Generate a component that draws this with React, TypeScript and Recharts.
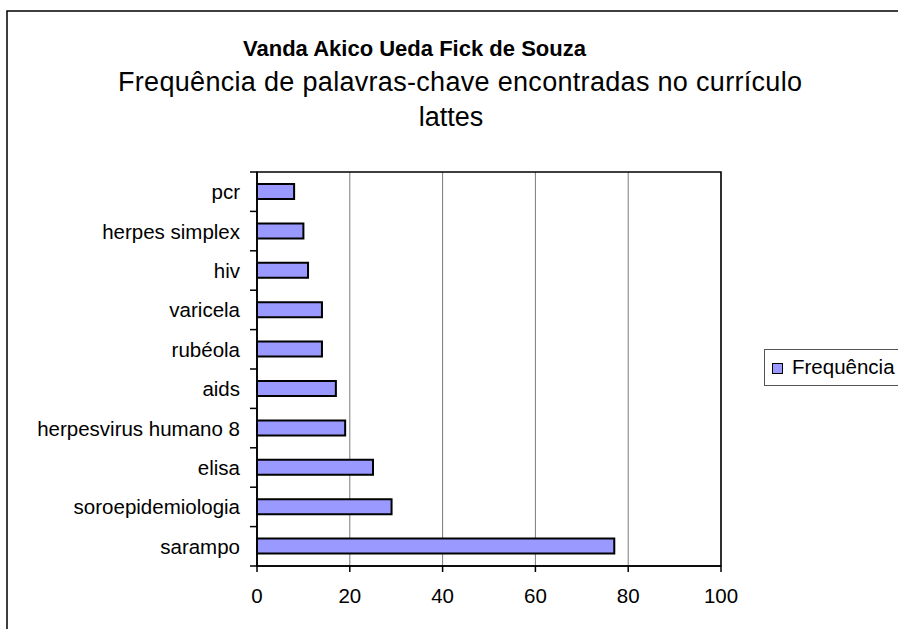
import React from "react";
import {
  BarChart,
  Bar,
  XAxis,
  YAxis,
  CartesianGrid,
  Legend,
  ReferenceArea,
} from "recharts";

const FONT = '"Liberation Sans", Arial, sans-serif';

// keywords, top to bottom as in the chart
const keywords = [
  "pcr",
  "herpes simplex",
  "hiv",
  "varicela",
  "rubéola",
  "aids",
  "herpesvirus humano 8",
  "elisa",
  "soroepidemiologia",
  "sarampo",
];
const frequencia = [8, 10, 11, 14, 14, 17, 19, 25, 29, 77];
const xTicks = [0, 20, 40, 60, 80, 100];

const data = keywords.map((k, i) => ({ keyword: k, freq: frequencia[i] }));

const BAR_FILL = "#9999FF";

// category label plus the short tick marks that sit between categories
function KeywordTick(props: any) {
  const { x, y, payload, index } = props;
  const half = payload.offset ?? 19.7;
  const lx1 = x + 10;
  const lx2 = x + 17;
  return (
    <g>
      <text
        x={x}
        y={y}
        textAnchor="end"
        dominantBaseline="central"
        fontFamily={FONT}
        fontSize={20.5}
        fill="#000"
      >
        {payload.value}
      </text>
      <line x1={lx1} x2={lx2} y1={y - half} y2={y - half} stroke="#000" strokeWidth={1.5} />
      {index === keywords.length - 1 && (
        <line x1={lx1} x2={lx2} y1={y + half} y2={y + half} stroke="#000" strokeWidth={1.5} />
      )}
    </g>
  );
}

function LegendBox() {
  return (
    <div
      style={{
        border: "1px solid #555",
        borderRight: "none",
        height: 35,
        width: 140,
        boxSizing: "content-box",
        position: "relative",
        fontFamily: FONT,
      }}
    >
      <div
        style={{
          position: "absolute",
          left: 7,
          top: 13,
          width: 9,
          height: 9,
          background: BAR_FILL,
          border: "1.5px solid #000",
        }}
      />
      <div
        style={{
          position: "absolute",
          left: 27,
          top: 5,
          fontSize: 20.5,
          lineHeight: "24px",
          color: "#000",
          whiteSpace: "nowrap",
        }}
      >
        Frequência
      </div>
    </div>
  );
}

export default function App() {
  return (
    <div
      style={{
        position: "absolute",
        left: 0,
        top: 0,
        width: 898,
        height: 629,
        overflow: "hidden",
        background: "#fff",
      }}
    >
      <BarChart
        width={898}
        height={629}
        data={data}
        layout="vertical"
        margin={{ top: 172, right: 177, bottom: 23, left: 7 }}
      >
        <CartesianGrid horizontal={false} stroke="#7a7a7a" strokeWidth={1} />
        <XAxis
          type="number"
          domain={[0, 100]}
          ticks={xTicks}
          height={40}
          axisLine={{ stroke: "#000", strokeWidth: 1.5 }}
          tickLine={{ stroke: "#000", strokeWidth: 1.5 }}
          tickSize={6}
          tickMargin={16}
          tick={{ fill: "#000", fontSize: 20.5, fontFamily: FONT }}
        />
        <YAxis
          type="category"
          dataKey="keyword"
          width={250}
          axisLine={{ stroke: "#000", strokeWidth: 1.5 }}
          tickLine={false}
          tickSize={7}
          tickMargin={10}
          interval={0}
          tick={<KeywordTick />}
        />
        <ReferenceArea x1={0} x2={100} fill="none" stroke="#000" strokeWidth={1.5} ifOverflow="visible" />
        <Bar
          dataKey="freq"
          name="Frequência"
          fill={BAR_FILL}
          stroke="#000"
          strokeWidth={2}
          barSize={15}
          isAnimationActive={false}
        />
        <Legend
          layout="horizontal"
          verticalAlign="middle"
          align="center"
          content={() => <LegendBox />}
          wrapperStyle={{ left: 764, top: 349, right: "auto", bottom: "auto", width: "auto" }}
        />
      </BarChart>
      <svg
        width={898}
        height={629}
        style={{ position: "absolute", left: 0, top: 0, pointerEvents: "none" }}
      >
        <rect x={7} y={11} width={1000} height={1000} fill="none" stroke="#000" strokeWidth={1.5} />
        <text x={414.5} y={56} textAnchor="middle" fontFamily={FONT} fontSize={22} fontWeight="bold" fill="#000" textLength={343} lengthAdjust="spacing">
          Vanda Akico Ueda Fick de Souza
        </text>
        <text x={460} y={91} textAnchor="middle" fontFamily={FONT} fontSize={27} fill="#000" textLength={684} lengthAdjust="spacing">
          Frequência de palavras-chave encontradas no currículo
        </text>
        <text x={451} y={126} textAnchor="middle" fontFamily={FONT} fontSize={27} fill="#000">
          lattes
        </text>
      </svg>
    </div>
  );
}
